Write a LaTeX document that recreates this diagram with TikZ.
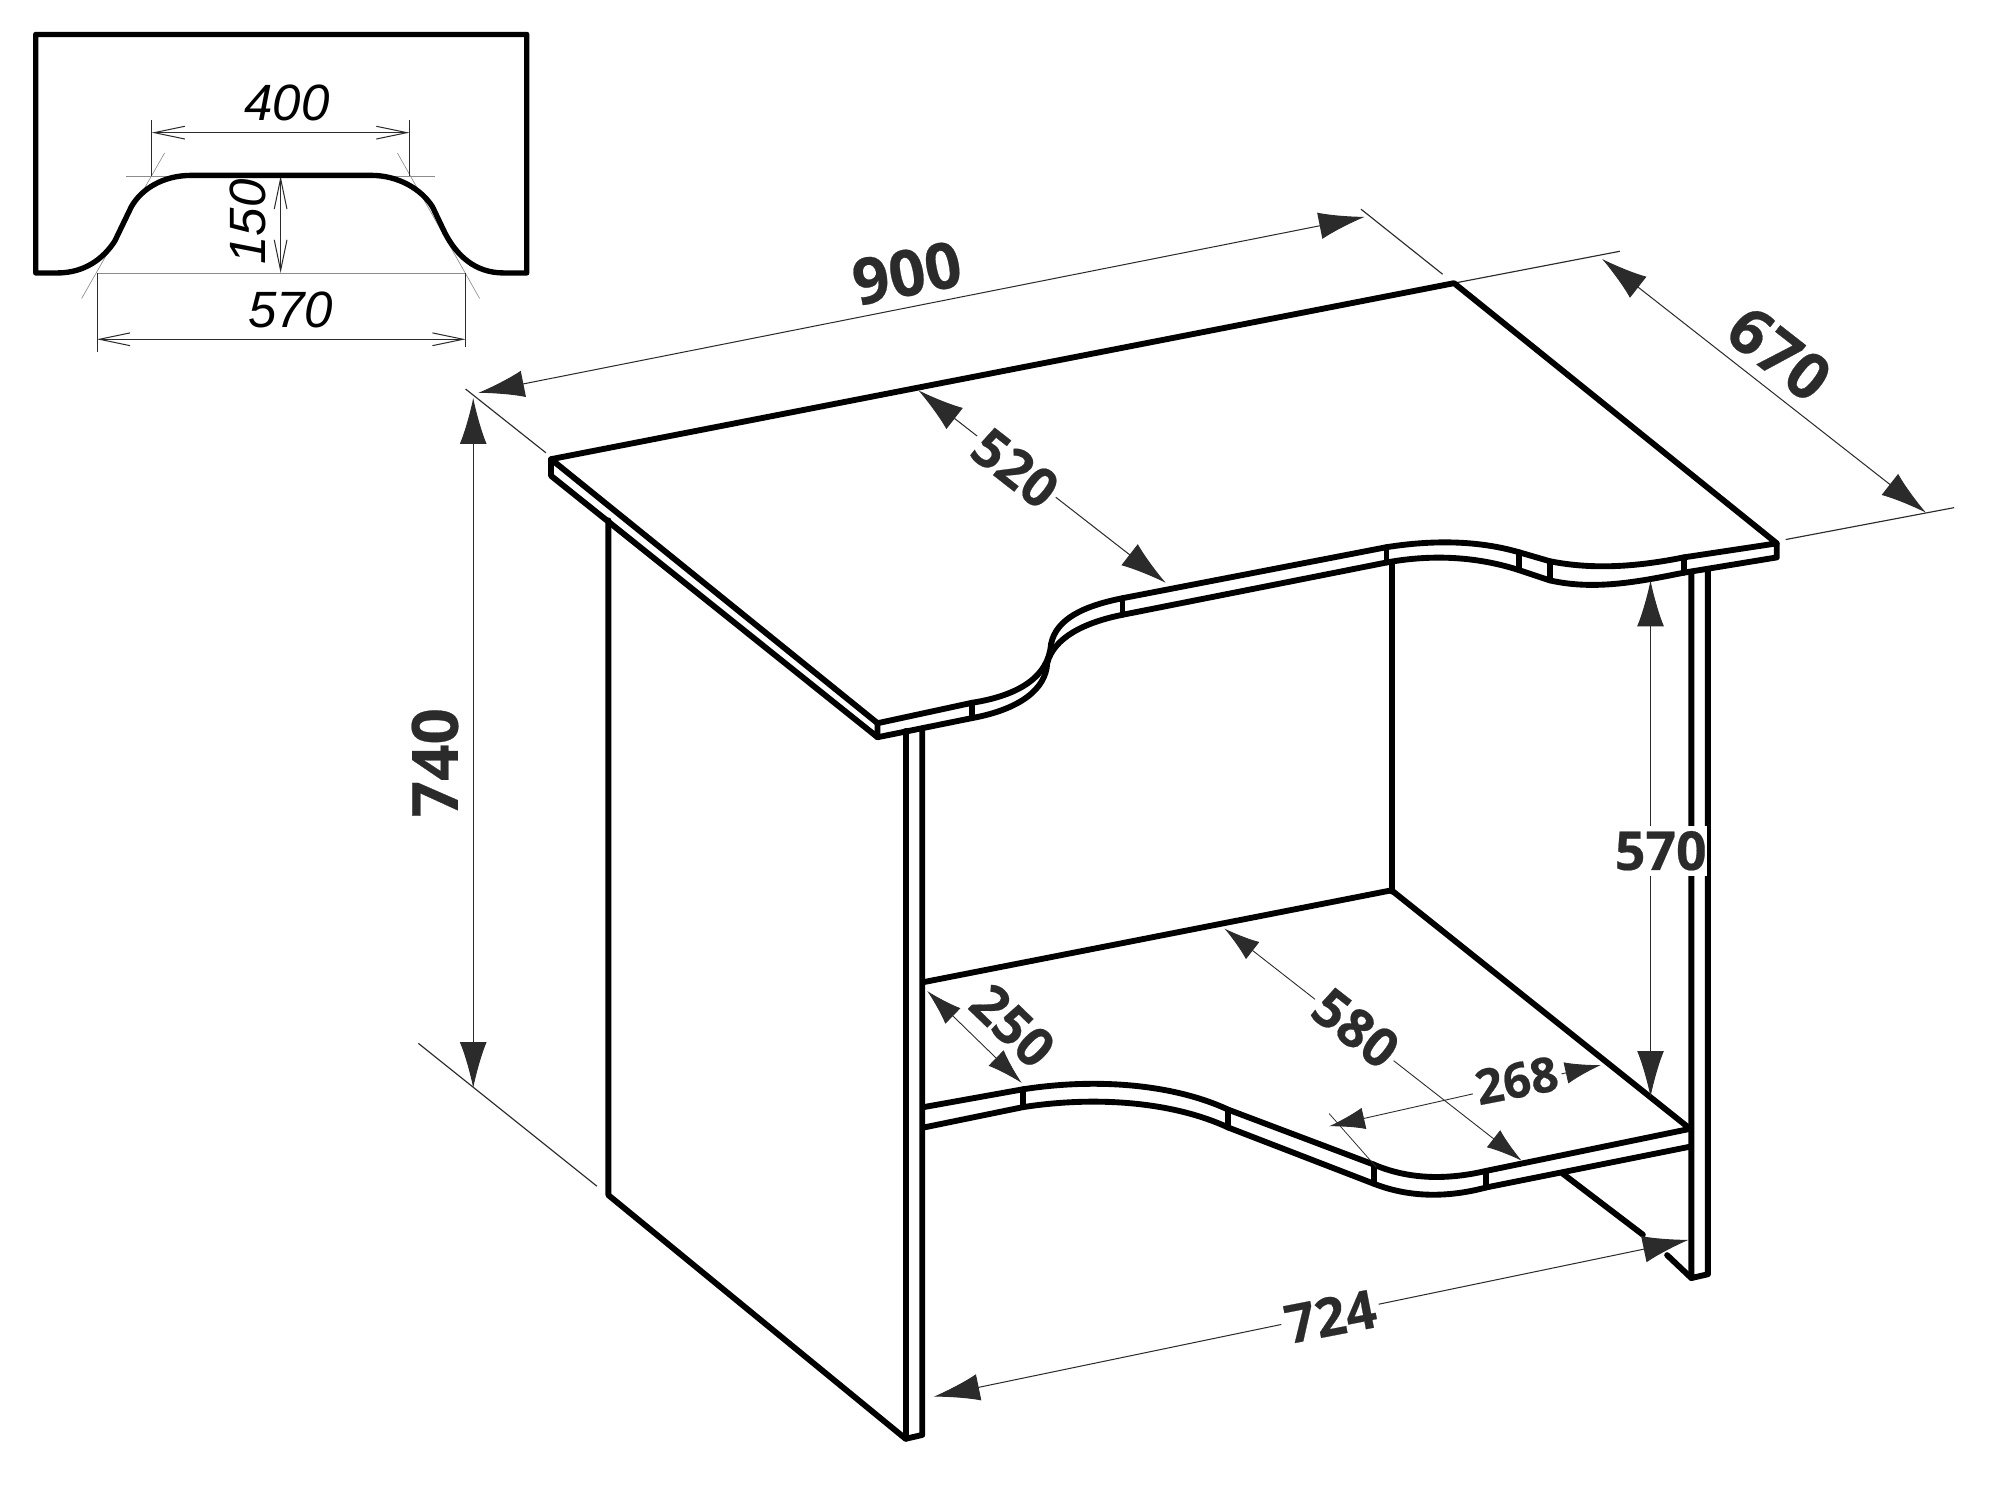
\documentclass[tikz,border=0pt]{standalone}
\usepackage{fontspec}
\setmainfont{Open Sans}[BoldFont={Open Sans Bold},BoldFeatures={FakeBold=0.4}]
\newfontfamily\isofont{Liberation Sans}
\usetikzlibrary{arrows.meta}
\definecolor{ink}{HTML}{2B2B2B}
\tikzset{
 edge/.style={line width=2.3pt,line join=round,line cap=round,black},
 inset/.style={line width=2.1pt,line join=round,line cap=round,black},
 dim/.style={line width=0.4pt,ink,{Latex[length=18pt,width=10.5pt,ink]}-{Latex[length=18pt,width=10.5pt,ink]}},
 dimm/.style={line width=0.35pt,ink,{Latex[length=14pt,width=8.5pt,ink]}-{Latex[length=14pt,width=8.5pt,ink]}},
 ext/.style={line width=0.45pt,ink},
 tiny/.style={line width=0.4pt,ink,{Straight Barb[length=12pt,width=5pt,line width=0.4pt]}-{Straight Barb[length=12pt,width=5pt,line width=0.4pt]}},
 guide/.style={line width=0.25pt,black!45},
 big/.style={font=\bfseries\fontsize{25}{26}\selectfont,text=ink,inner sep=1pt},
 mid/.style={font=\bfseries\fontsize{21}{22}\selectfont,text=ink,inner sep=1.5pt},
 small/.style={font=\bfseries\fontsize{19}{20}\selectfont,text=ink,inner sep=1.5pt},
 iso/.style={font=\isofont\itshape\fontsize{20}{21}\selectfont,text=black,inner sep=0pt},
}
\begin{document}
\begin{tikzpicture}[x=0.5pt,y=-0.5pt]
\useasboundingbox (0,0) rectangle (1568,1176);
% inset
\coordinate (il) at (119,138);\coordinate (ir) at (321,138);
\coordinate (bl) at (76,214);\coordinate (br) at (365,214);
\draw[guide] (99,138.5) -- (341,138.5);
\draw[guide] (bl) -- (br);
\draw[guide] (129,120) -- (64,234);
\draw[guide] (311.6,120) -- (376,234);
\draw[ext,line width=.3pt] (119,94) -- (il);
\draw[ext,line width=.3pt] (321,94) -- (ir);
\draw[ext,line width=.3pt] (bl) -- (76,276);
\draw[ext,line width=.3pt] (br) -- (365,272);
\draw[tiny] (119,104) -- (321,104);
\draw[tiny] (76,266) -- (365,266);
\draw[tiny] (220,138) -- (220,214);
\draw[inset] (28,214) -- (28,27) -- (413,27) -- (413,214) -- (395,214)
  .. controls (372,214) and (358,200) .. (349,183) -- (339,162)
  .. controls (330,148) and (312,137.5) .. (291,137.5) -- (150,137.5)
  .. controls (128,137.5) and (111,148) .. (103,162) -- (90,189)
  .. controls (81,203) and (66,214) .. (45,214) -- cycle;
\node[iso] (t400) at (225,81) {400};
\node[iso] (t570a) at (228,243) {570};
\node[iso,rotate=90] (t150) at (194,174) {150};
% extension lines
\draw[ext] (1067,164) -- (1131,215);
\draw[ext] (365,305) -- (428,355);
\draw[ext] (1140,222) -- (1270,197);
\draw[ext] (1400,423) -- (1532,398);
\draw[ext] (328,818) -- (468,930);
% desk top
\draw[edge] (432,360) -- (1140,222) -- (1393,426) -- (1320,437)
  .. controls (1285,444) and (1250,447) .. (1215,440) -- (1191,433)
  .. controls (1160,424) and (1125,423) .. (1087,429) -- (880,469)
  .. controls (850,475) and (828,485) .. (824,505)
  .. controls (822,530) and (800,545) .. (762,551) -- (688,567) -- cycle;
\draw[edge] (432,360) -- (432,373) -- (688,578) -- (688,567);
\draw[edge] (688,578) -- (762,563)
  .. controls (800,556) and (820,540) .. (821,520)
  .. controls (826,500) and (850,488) .. (880,482) -- (1087,441)
  .. controls (1125,434) and (1160,437) .. (1191,447) -- (1215,455)
  .. controls (1250,463) and (1285,456) .. (1320,449) -- (1393,437) -- (1393,426);
\foreach \a/\b/\c/\d in {762/551/762/563,880/469/880/482,1087/429/1087/441,1191/433/1191/447,1215/440/1215/455,1320/437/1320/449}
  \draw[edge] (\a,\b) -- (\c,\d);
% panels
\draw[edge] (477,408) -- (477,937) -- (710,1128) -- (723,1125) -- (723,571);
\draw[edge] (710,573) -- (710,1128);
\draw[edge] (1091,441) -- (1091,699);
\draw[edge] (1326,449) -- (1326,1002) -- (1339,999) -- (1339,447);
\draw[edge] (1225,920) -- (1288,968);
\draw[edge] (1307,984) -- (1326,1002);
% shelf
\draw[edge] (724,770) -- (1091,698) -- (1325,885);
\draw[edge] (724,868) -- (802,854)
  .. controls (860,845) and (920,850) .. (963,870) -- (1077,913)
  .. controls (1105,925) and (1135,925) .. (1165,918) -- (1325,885);
\draw[edge] (724,884) -- (802,868)
  .. controls (860,859) and (920,864) .. (963,884) -- (1077,928)
  .. controls (1105,939) and (1135,939) .. (1165,931) -- (1325,899);
\foreach \a/\b/\c/\d in {802/854/802/868,963/870/963/884,1077/913/1077/928,1165/918/1165/931}
  \draw[edge] (\a,\b) -- (\c,\d);
% dims
\draw[dim] (375,308) -- (1070,170);
\node[big,rotate=11] (t900) at (711,214) {900};
\draw[dim] (1256,203) -- (1510,402);
\node[big,rotate=-38] (t670) at (1395,277) {670};
\draw[dim] (720,306) -- (914,457);
\node[mid,rotate=-38,fill=white] (t520) at (796,367) {520};
\draw[dim] (371,312) -- (371,853);
\node[big,rotate=90] (t740) at (341,598) {740};
\draw[dim] (732,1095) -- (1324,972);
\node[mid,rotate=11,fill=white] (t724) at (1043,1032) {724};
\draw[dim] (1294,455) -- (1294,860);
\node[mid,fill=white,inner xsep=0pt,inner ysep=2pt] (t570) at (1302,667) {570};
\draw[dimm] (960,728) -- (1193,910);
\node[mid,rotate=-38,fill=white] (t580) at (1063,806) {580};
\draw[dimm] (727,777) -- (801,849);
\node[mid,rotate=-44] (t250) at (794,804) {250};
\draw[dimm] (1042,883) -- (1255,835);
\node[small,rotate=11,fill=white] (t268) at (1189,847) {268};
\draw[ext,line width=.3pt] (1042,873) -- (1079,915);
\end{tikzpicture}
\end{document}
